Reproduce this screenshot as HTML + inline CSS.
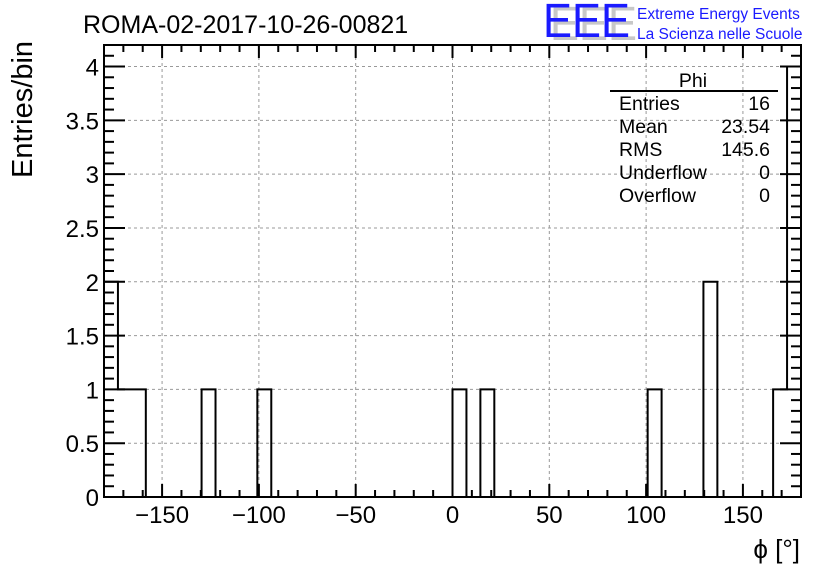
<!DOCTYPE html>
<html><head><meta charset="utf-8"><style>
body{margin:0;background:#fff}
svg{display:block;font-family:"Liberation Sans",sans-serif}
</style></head><body>
<svg id="c" width="836" height="572" viewBox="0 0 836 572">
<rect width="836" height="572" fill="#fff"/>
<text x="83" y="33" font-size="25" fill="#000">ROMA-02-2017-10-26-00821</text>
<g>
<text x="550" y="40" font-size="48" fill="#c8c8c8" textLength="87" lengthAdjust="spacingAndGlyphs">EEE</text>
<text x="543" y="37" font-size="48" fill="#1a1aff" textLength="87" lengthAdjust="spacingAndGlyphs">EEE</text>
<text x="637" y="19" font-size="15.5" fill="#1a1aff">Extreme Energy Events</text>
<text x="637" y="39" font-size="15.5" fill="#1a1aff">La Scienza nelle Scuole</text>
</g>
<g id="grid"></g>
<g id="bars"></g>
<g id="axes"></g>
<text transform="translate(32,178) rotate(-90)" font-size="29" fill="#000">Entries/bin</text>
<text x="800" y="558" font-size="26" text-anchor="end" fill="#000">ϕ [°]</text>
<g font-size="19.5" fill="#000">
<text x="693" y="87" text-anchor="middle">Phi</text>
<line x1="610" y1="91" x2="778" y2="91" stroke="#000" stroke-width="2"/>
<text x="619" y="110">Entries</text><text x="770" y="110" text-anchor="end">16</text>
<text x="619" y="133">Mean</text><text x="770" y="133" text-anchor="end">23.54</text>
<text x="619" y="156">RMS</text><text x="770" y="156" text-anchor="end">145.6</text>
<text x="619" y="179">Underflow</text><text x="770" y="179" text-anchor="end">0</text>
<text x="619" y="202">Overflow</text><text x="770" y="202" text-anchor="end">0</text>
</g>
</svg>
<script>
const binEdgesMin = -180;
const binWidth = 7.2;
const counts = [2,1,1,0,0,0,0,1,0,0,0,1,0,0,0,0,0,0,0,0,0,0,0,0,0,1,0,1,0,0,0,0,0,0,0,0,0,0,0,1,0,0,0,2,0,0,0,0,1,4];
const xTicks = [-150,-100,-50,0,50,100,150];
const xTickLabels = ["\u2212150","\u2212100","\u221250","0","50","100","150"];
const yTicks = [0,0.5,1,1.5,2,2.5,3,3.5,4];
const yTickLabels = ["0","0.5","1","1.5","2","2.5","3","3.5","4"];
const X0=104,X1=801,Y0=497,Y1=45,xmin=-180,xmax=180,ymin=0,ymax=4.2;
const sx=v=>X0+(v-xmin)/(xmax-xmin)*(X1-X0);
const sy=v=>Y0-(v-ymin)/(ymax-ymin)*(Y0-Y1);
const NS="http://www.w3.org/2000/svg";
function mk(tag,attrs,parent){const e=document.createElementNS(NS,tag);for(const k in attrs)e.setAttribute(k,attrs[k]);parent.appendChild(e);return e;}
const grid=document.getElementById('grid'),bars=document.getElementById('bars'),axes=document.getElementById('axes');
xTicks.forEach(v=>{const l=mk('line',{x1:sx(v),x2:sx(v),y1:Y1,y2:Y0,stroke:'#999','stroke-dasharray':'3,3'},grid);

});
yTicks.forEach(v=>{const l=mk('line',{x1:X0,x2:X1,y1:sy(v),y2:sy(v),stroke:'#999','stroke-dasharray':'3,3'},grid);

});
let d=`M${sx(xmin)},${sy(0)}`;
counts.forEach((c,i)=>{const a=binEdgesMin+i*binWidth,b=a+binWidth;d+=` L${sx(a)},${sy(c)} L${sx(b)},${sy(c)}`;});
d+=` L${sx(xmax)},${sy(0)}`;
const p=mk('path',{d:d,fill:'none',stroke:'#000','stroke-width':2},bars);


const fr=mk('rect',{x:X0,y:Y1,width:X1-X0,height:Y0-Y1,fill:'none',stroke:'#000','stroke-width':2},axes);


for(let v=-180;v<=180;v+=10){const maj=xTicks.includes(v);const h=maj?13:7;
mk('line',{x1:sx(v),x2:sx(v),y1:Y0,y2:Y0-h,stroke:'#000','stroke-width':2},axes);
mk('line',{x1:sx(v),x2:sx(v),y1:Y1,y2:Y1+h,stroke:'#000','stroke-width':2},axes);}
for(let k=0;k<=42;k++){const v=k/10;const maj=k%5===0;const w=maj?21:10;
mk('line',{x1:X0,x2:X0+w,y1:sy(v),y2:sy(v),stroke:'#000','stroke-width':2},axes);
mk('line',{x1:X1,x2:X1-w,y1:sy(v),y2:sy(v),stroke:'#000','stroke-width':2},axes);}
xTicks.forEach((v,i)=>{const t=mk('text',{x:sx(v),y:523,'font-size':24,'text-anchor':'middle'},axes);t.textContent=xTickLabels[i];

});
yTicks.forEach((v,i)=>{const t=mk('text',{x:99,y:sy(v)+9,'font-size':24,'text-anchor':'end'},axes);t.textContent=yTickLabels[i];

});
</script>
</body></html>
